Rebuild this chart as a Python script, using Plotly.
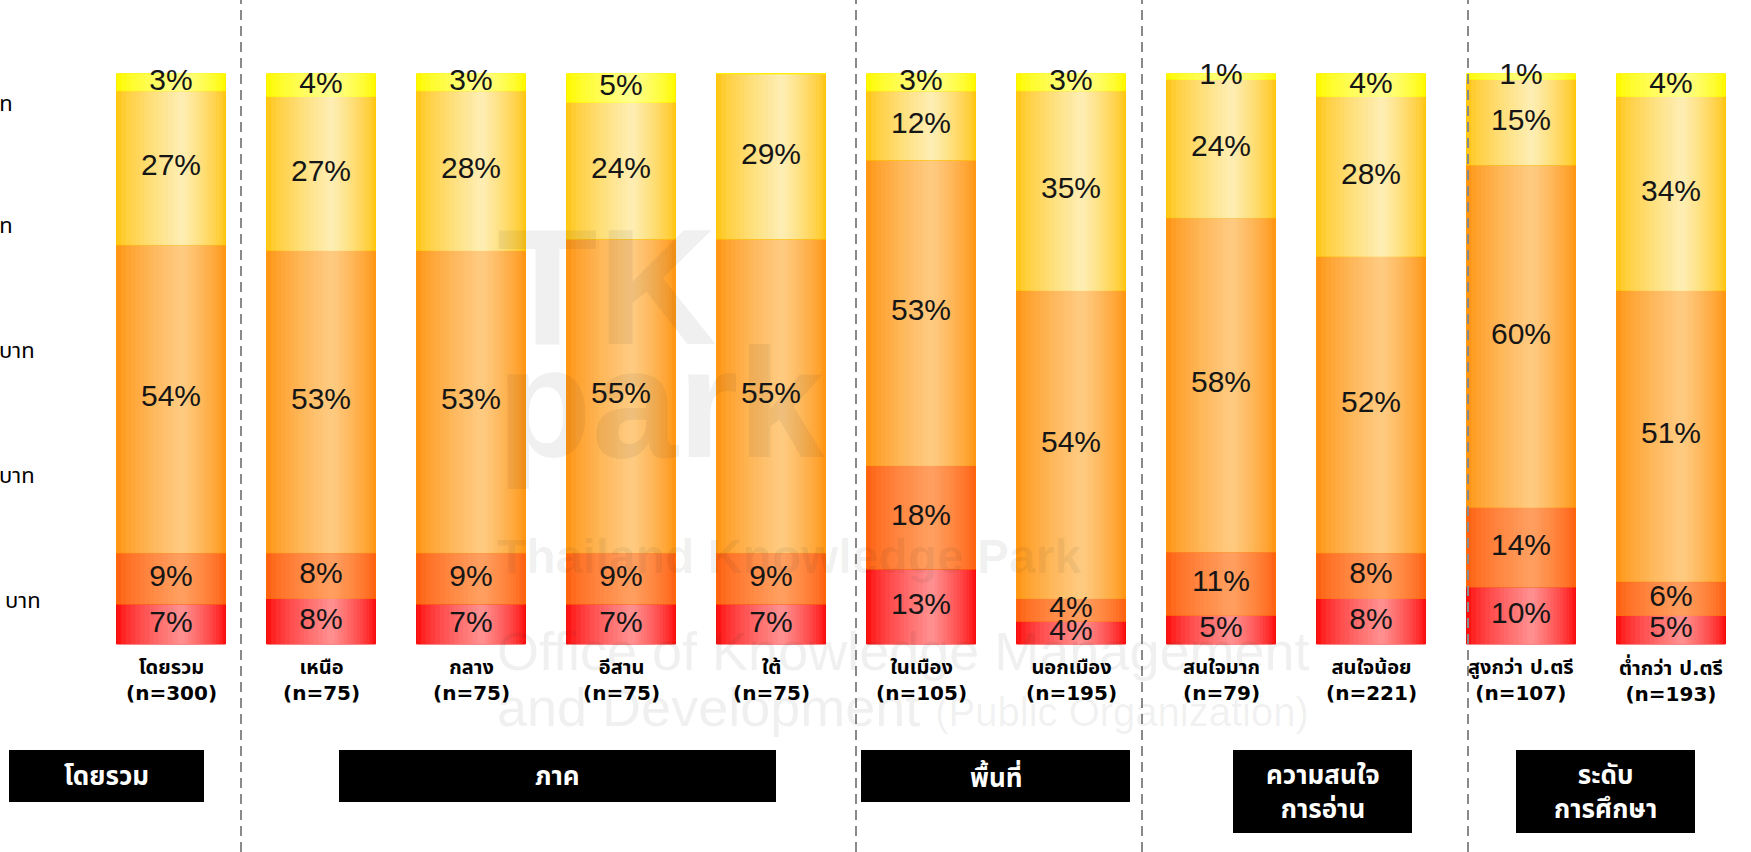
import plotly.graph_objects as go

# ---------------- data ----------------
categories = ["โดยรวม", "เหนือ", "กลาง", "อีสาน", "ใต้", "ในเมือง", "นอกเมือง",
              "สนใจมาก", "สนใจน้อย", "สูงกว่า ป.ตรี", "ต่ำกว่า ป.ตรี"]
sample_n = ["(n=300)", "(n=75)", "(n=75)", "(n=75)", "(n=75)", "(n=105)", "(n=195)",
            "(n=79)", "(n=221)", "(n=107)", "(n=193)"]
seg_red = [7, 8, 7, 7, 7, 13, 4, 5, 8, 10, 5]
seg_darkorange = [9, 8, 9, 9, 9, 18, 4, 11, 8, 14, 6]
seg_orange = [54, 53, 53, 55, 55, 53, 54, 58, 52, 60, 51]
seg_light = [27, 27, 28, 24, 29, 12, 35, 24, 28, 15, 34]
seg_yellow = [3, 4, 3, 5, 0, 3, 3, 1, 4, 1, 4]
row_labels = ["บาท", "บาท", "บาท", "บาท", "บาท"]
groups = ["โดยรวม", "ภาค", "พื้นที่", "ความสนใจ<br>การอ่าน", "ระดับ<br>การศึกษา"]

# ---------------- styles ----------------
# (edge colour, centre colour, outline colour)
seg_styles = [
    ((255, 18, 18), (255, 142, 142), "#f01010"),
    ((255, 98, 18), (255, 158, 95), "#ff6a00"),
    ((255, 150, 22), (254, 202, 128), "#ff9a10"),
    ((255, 198, 28), (254, 237, 176), "#ffc800"),
    ((255, 250, 0), (255, 255, 140), "#ffee00"),
]
segments = [seg_red, seg_darkorange, seg_orange, seg_light, seg_yellow]

W_PX, H_PX = 1751, 852
X0 = -171 / 150
X1 = X0 + W_PX / 150
Y_PER_PX = 100 / (644 - 73.7)
Y1 = 100 + 73.7 * Y_PER_PX
Y0 = -(H_PX - 644) * Y_PER_PX

xs = list(range(len(categories)))
totals = [sum(s[i] for s in segments) for i in xs]
scaled = [[s[i] / totals[i] * 100 for i in xs] for s in segments]
bases = []
acc = [0.0] * len(xs)
for sc in scaled:
    bases.append(acc[:])
    acc = [acc[i] + sc[i] for i in xs]

fig = go.Figure()

BAR_W = 109 / 150
N = 14
PEAK = 0.6


def mix(a, b, f):
    return "rgb(%d,%d,%d)" % tuple(round(a[j] + (b[j] - a[j]) * f) for j in range(3))


for si, sc in enumerate(scaled):
    edge, centre, outline = seg_styles[si]
    for k in range(N):
        t = k / N
        f = (k / (N - 1)) ** 0.75
        fig.add_trace(go.Bar(
            x=xs, y=sc, base=bases[si],
            width=BAR_W * (1 - t),
            offset=-BAR_W / 2 + BAR_W * PEAK * t,
            marker=dict(color=mix(edge, centre, f),
                        line=dict(width=1 if k == 0 else 0, color=outline)),
            showlegend=False, hoverinfo="skip",
        ))

# value labels
lx, ly, lt = [], [], []
for si, sc in enumerate(scaled):
    for i in xs:
        if segments[si][i] > 0:
            lx.append(i)
            ly.append(bases[si][i] + sc[i] / 2)
            lt.append("%d%%" % segments[si][i])
fig.add_trace(go.Scatter(
    x=lx, y=ly, text=lt, mode="text",
    textfont=dict(family="Liberation Sans, Arial, sans-serif", size=30, color="#151515"),
    showlegend=False, hoverinfo="skip", cliponaxis=False,
))

annotations = []
shapes = []

# watermark
wm = "rgba(40,40,40,0.07)"
wm_items = [
    ("<b>TK</b>", 287, 165),
    ("<b>park</b>", 403, 155),
    ("<b>Thailand Knowledge Park</b>", 556, 48),
    ("Office of Knowledge Management", 651, 54),
    ("and Development <span style='font-size:40px'>(Public Organization)</span>", 707, 54),
]
for txt, ypx, size in wm_items:
    annotations.append(dict(
        x=495 / W_PX, y=1 - ypx / H_PX, xref="paper", yref="paper",
        xanchor="left", yanchor="middle", text=txt, showarrow=False,
        font=dict(family="Liberation Sans, Arial, sans-serif", size=size, color=wm),
    ))

THAI = "DejaVu Sans, Tahoma, Noto Sans Thai, Noto Sans, sans-serif"

# category labels
for i in xs:
    annotations.append(dict(
        x=i, y=1 - 680 / H_PX, xref="x", yref="paper",
        text="<b>%s<br>%s</b>" % (categories[i], sample_n[i]), showarrow=False,
        xanchor="center", yanchor="middle",
        font=dict(family=THAI, size=20, color="#000"),
    ))

# left cut-off row labels
row_pos = [(15, 103), (15, 226), (37, 350), (37, 475), (43, 600)]
for lab, (xr, yp) in zip(row_labels, row_pos):
    annotations.append(dict(
        x=xr / W_PX, y=1 - yp / H_PX, xref="paper", yref="paper",
        text=lab, showarrow=False, xanchor="right", yanchor="middle",
        font=dict(family=THAI, size=22, color="#000"),
    ))

# dashed separators
for xp in [241, 856, 1142, 1468]:
    shapes.append(dict(type="line", xref="paper", yref="paper",
                       x0=xp / W_PX, x1=xp / W_PX, y0=0, y1=1,
                       line=dict(color="#8a8a8a", width=2, dash="10px,6px")))

# group boxes
boxes = [(9, 204, 750, 802), (339, 776, 750, 802), (861, 1130, 750, 802),
         (1233, 1412, 750, 833), (1516, 1695, 750, 833)]
for g, (bx0, bx1, by0, by1) in zip(groups, boxes):
    shapes.append(dict(type="rect", xref="paper", yref="paper",
                       x0=bx0 / W_PX, x1=bx1 / W_PX, y0=1 - by1 / H_PX, y1=1 - by0 / H_PX,
                       fillcolor="#000", line=dict(width=0), layer="above"))
    annotations.append(dict(
        x=(bx0 + bx1) / 2 / W_PX, y=1 - (by0 + by1) / 2 / H_PX, xref="paper", yref="paper",
        text="<b>%s</b>" % g, showarrow=False, xanchor="center", yanchor="middle",
        font=dict(family=THAI, size=26, color="#fff"),
    ))

fig.update_layout(
    width=W_PX, height=H_PX,
    margin=dict(l=0, r=0, t=0, b=0),
    paper_bgcolor="white", plot_bgcolor="white",
    barmode="overlay",
    xaxis=dict(range=[X0, X1], visible=False, fixedrange=True),
    yaxis=dict(range=[Y0, Y1], visible=False, fixedrange=True),
    annotations=annotations, shapes=shapes,
    showlegend=False,
)

fig.write_html("out.html", config={"displayModeBar": False},
               post_script="document.body.style.margin='0';document.body.style.overflow='hidden';")
